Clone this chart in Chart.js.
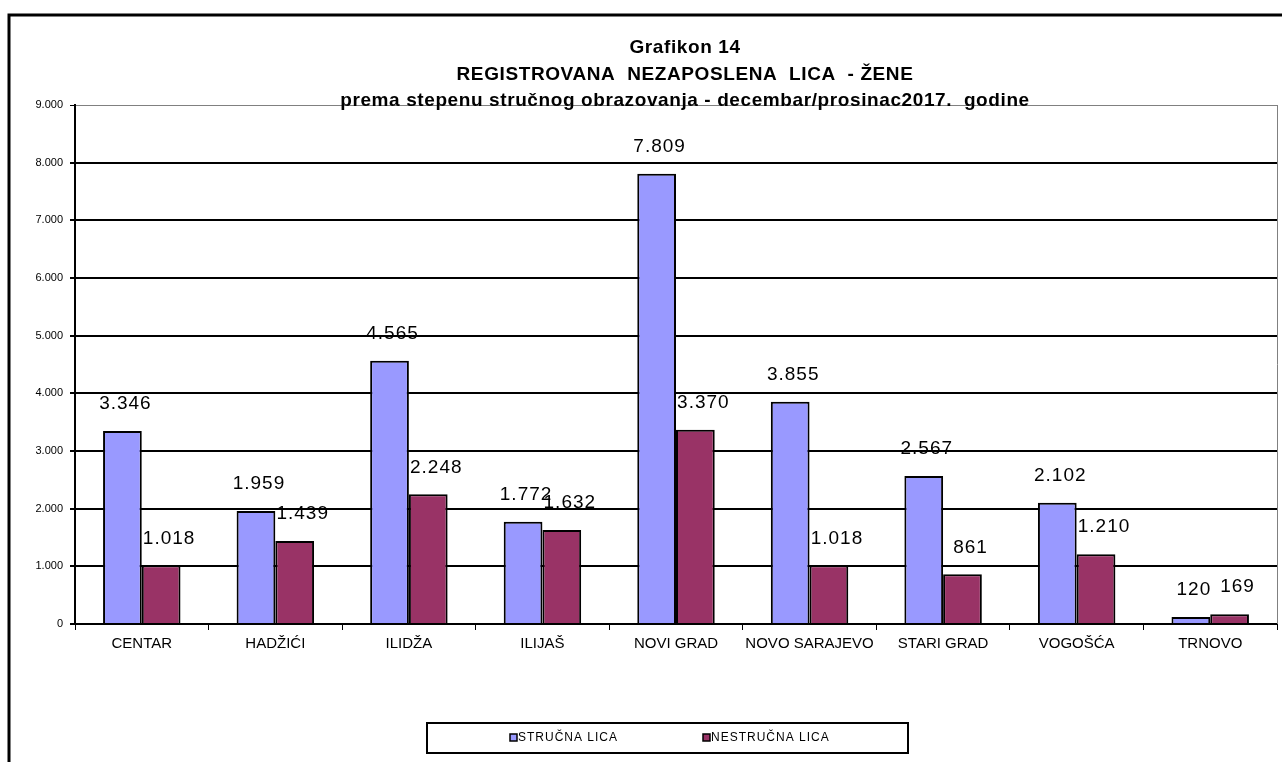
<!DOCTYPE html>
<html>
<head>
<meta charset="utf-8">
<script src="https://cdn.jsdelivr.net/npm/chart.js@4"></script>
<style>
  html, body { margin: 0; padding: 0; background: #fff; }
  #wrap { position: relative; width: 1282px; height: 762px; }
</style>
</head>
<body>
<div id="wrap"><canvas id="chart" width="1282" height="762"></canvas></div>
<script>
// Data
const categories = ['CENTAR', 'HADŽIĆI', 'ILIDŽA', 'ILIJAŠ', 'NOVI GRAD', 'NOVO SARAJEVO', 'STARI GRAD', 'VOGOŠĆA', 'TRNOVO'];
const strucnaLica = [3346, 1959, 4565, 1772, 7809, 3855, 2567, 2102, 120];
const nestrucnaLica = [1018, 1439, 2248, 1632, 3370, 1018, 861, 1210, 169];
const seriesNames = ['STRUČNA LICA', 'NESTRUČNA LICA'];
const titleLines = [
  'Grafikon 14',
  'REGISTROVANA  NEZAPOSLENA  LICA  - ŽENE',
  'prema stepenu stručnog obrazovanja - decembar/prosinac2017.  godine'
];
const yMax = 9000;
const yStep = 1000;

const fmt = v => Math.round(v).toString().replace(/\B(?=(\d{3})+(?!\d))/g, '.');
const FONT = '"Liberation Sans", Arial, sans-serif';

// Frame, title and plot border
const framePlugin = {
  id: 'frame',
  beforeDraw(chart) {
    const ctx = chart.ctx;
    ctx.save();
    ctx.fillStyle = '#fff';
    ctx.fillRect(0, 0, chart.width, chart.height);
    ctx.strokeStyle = '#000';
    ctx.lineWidth = 3;
    ctx.beginPath();
    ctx.moveTo(9, chart.height);
    ctx.lineTo(9, 15);
    ctx.lineTo(chart.width, 15);
    ctx.stroke();
    ctx.restore();
  },
  afterDraw(chart) {
    const ctx = chart.ctx;
    const a = chart.chartArea;
    ctx.save();
    ctx.strokeStyle = '#808080';
    ctx.lineWidth = 1;
    ctx.beginPath();
    ctx.moveTo(a.right + 0.5, a.top);
    ctx.lineTo(a.right + 0.5, a.bottom);
    ctx.stroke();

    // title
    ctx.fillStyle = '#000';
    ctx.font = 'bold 19px ' + FONT;
    ctx.letterSpacing = '0.6px';
    ctx.textAlign = 'center';
    ctx.textBaseline = 'middle';
    const cx = (a.left + a.right) / 2 + 9;
    titleLines.forEach((t, i) => ctx.fillText(t, cx, a.top - 57 + i * 26.5));
    ctx.restore();
  }
};

// Value labels above bars
const valueLabels = {
  id: 'valueLabels',
  afterDatasetsDraw(chart) {
    const ctx = chart.ctx;
    ctx.save();
    ctx.fillStyle = '#000';
    ctx.font = '19px ' + FONT;
    ctx.letterSpacing = '1px';
    ctx.textAlign = 'center';
    ctx.textBaseline = 'middle';
    chart.data.datasets.forEach((ds, di) => {
      chart.getDatasetMeta(di).data.forEach((el, i) => {
        ctx.fillText(fmt(ds.data[i]), el.x + (di === 1 ? 8 : 3), el.y - 27);
      });
    });
    ctx.restore();
  }
};

// Boxed legend at the bottom
const boxLegend = {
  id: 'boxLegend',
  afterDraw(chart) {
    const ctx = chart.ctx;
    ctx.save();
    ctx.strokeStyle = '#000';
    ctx.lineWidth = 2;
    ctx.strokeRect(427, 723, 481, 30);
    ctx.font = '12px ' + FONT;
    ctx.letterSpacing = '1px';
    ctx.textBaseline = 'middle';
    ctx.textAlign = 'left';
    const xs = [510, 703];
    chart.data.datasets.forEach((ds, i) => {
      ctx.fillStyle = ds.backgroundColor;
      ctx.fillRect(xs[i], 734, 7, 7);
      ctx.lineWidth = 1.5;
      ctx.strokeRect(xs[i], 734, 7, 7);
      ctx.fillStyle = '#000';
      ctx.fillText(ds.label, xs[i] + 8, 738);
    });
    ctx.restore();
  }
};

new Chart(document.getElementById('chart'), {
  type: 'bar',
  data: {
    labels: categories,
    datasets: [
      { label: seriesNames[0], data: strucnaLica, backgroundColor: '#9999FF', borderColor: '#000', borderWidth: 2 },
      { label: seriesNames[1], data: nestrucnaLica, backgroundColor: '#993366', borderColor: '#000', borderWidth: 2 }
    ]
  },
  options: {
    responsive: false,
    animation: false,
    devicePixelRatio: 1,
    datasets: { bar: { categoryPercentage: 0.58, barPercentage: 1.0 } },
    layout: { padding: { top: 105, right: 5, bottom: 108, left: 0 } },
    plugins: {
      legend: { display: false },
      title: { display: false },
      tooltip: { enabled: false }
    },
    scales: {
      x: {
        afterFit: s => { s.height = 30; },
        grid: { drawOnChartArea: false, drawTicks: true, tickLength: 6, color: '#000', lineWidth: 1 },
        border: { color: '#000', width: 2 },
        ticks: { color: '#000', font: { family: FONT, size: 15 }, padding: 5, maxRotation: 0, autoSkip: false }
      },
      y: {
        min: 0,
        max: yMax,
        afterFit: s => { s.width = 75; },
        ticks: { stepSize: yStep, color: '#000', font: { family: FONT, size: 11 }, padding: 7, callback: v => fmt(v) },
        grid: {
          color: c => (c.tick && c.tick.value === yMax ? '#808080' : '#000'),
          lineWidth: c => (c.tick && c.tick.value === yMax ? 1 : 2),
          tickLength: 5,
          tickColor: '#000'
        },
        border: { color: '#000', width: 2 }
      }
    }
  },
  plugins: [framePlugin, valueLabels, boxLegend]
});
</script>
</body>
</html>
